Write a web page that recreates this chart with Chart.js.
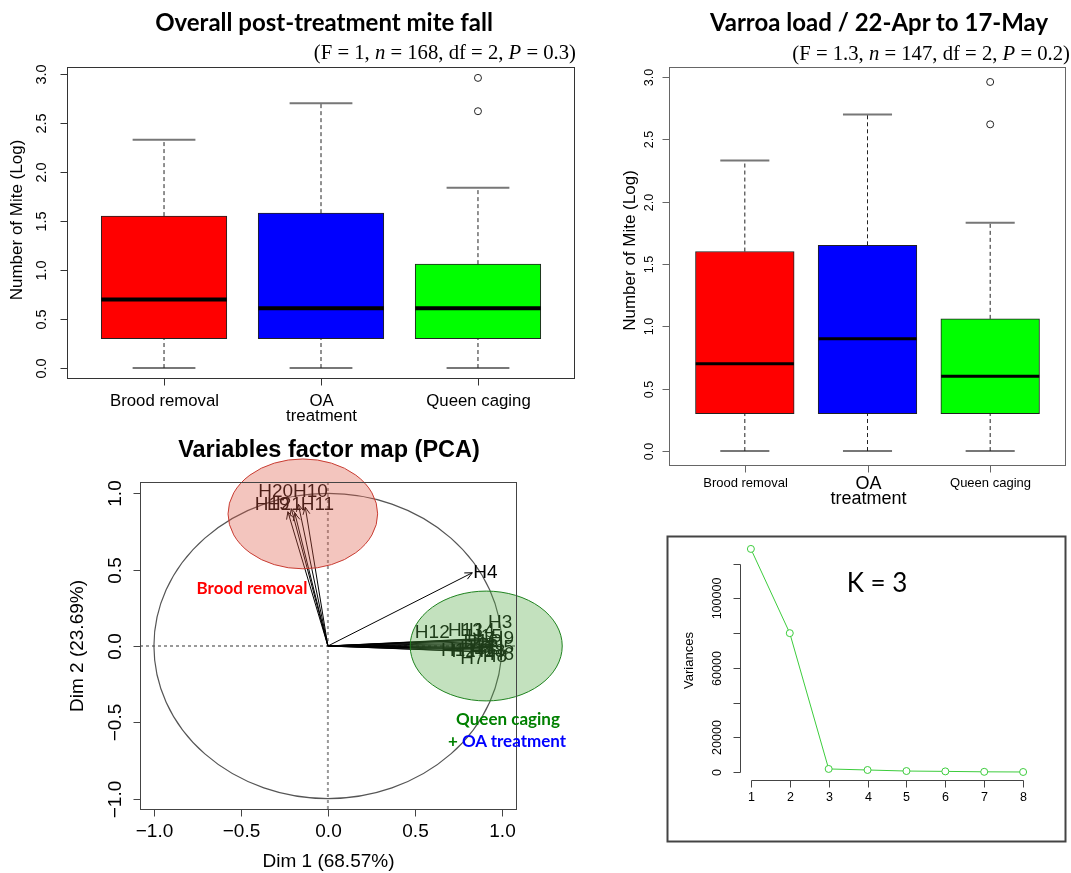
<!DOCTYPE html>
<html>
<head>
<meta charset="utf-8">
<script src="https://cdn.jsdelivr.net/npm/chart.js@4/dist/chart.umd.min.js"></script>
<style>
  body { margin: 0; background: #fff; width: 1071px; height: 873px; position: relative; overflow: hidden; }
  canvas { position: absolute; left: 0; top: 0; }
  .t { position: absolute; white-space: nowrap; transform: translate(-50%, -50%); line-height: 1; }
  .r { transform: translate(-100%, -50%); }
  .title { font-family: Lato, sans-serif; font-weight: 700; font-size: 24px; color: #000; }
  .sub { font-family: "Liberation Serif", serif; font-size: 20.7px; color: #000; }
  .note { font-family: Lato, sans-serif; font-weight: 700; font-size: 17px; }
</style>
</head>
<body>
<canvas id="fall" width="1071" height="873"></canvas>
<canvas id="load" width="1071" height="873"></canvas>
<canvas id="pca" width="1071" height="873"></canvas>
<canvas id="scree" width="1071" height="873"></canvas>

<div class="t title" style="left:324px;top:22px">Overall post-treatment mite fall</div>
<div class="t r sub" style="left:576px;top:52px">(F = 1, <i>n</i> = 168, df = 2, <i>P</i> = 0.3)</div>
<div class="t title" style="left:879px;top:22px">Varroa load / 22-Apr to 17-May</div>
<div class="t r sub" style="left:1070px;top:53px">(F = 1.3, <i>n</i> = 147, df = 2, <i>P</i> = 0.2)</div>
<div class="t" style="left:329px;top:450px;font-family:'Liberation Sans',Arial,sans-serif;font-weight:700;font-size:23.5px">Variables factor map (PCA)</div>
<div class="t note" style="left:252px;top:587px;color:#ff0000">Brood removal</div>
<div class="t note" style="left:508px;top:718px;color:#008000">Queen caging</div>
<div class="t note" style="left:507px;top:740px;color:#0000ff"><span style="color:#008000">+ </span>OA treatment</div>
<div class="t" style="left:877px;top:582px;font-family:Lato,sans-serif;font-size:26px">K = 3</div>

<script>
// groups shown in both boxplots
const groups = ["Brood removal", ["OA", "treatment"], "Queen caging"];
const boxColors = ["#ff0000", "#0000ff", "#00ff00"];

// overall post-treatment mite fall (log)
const fallMin = [0, 0, 0];
const fallQ1 = [0.3, 0.3, 0.3];
const fallMed = [0.7, 0.61, 0.61];
const fallQ3 = [1.55, 1.58, 1.06];
const fallMax = [2.33, 2.7, 1.84];
const fallOutGroup = [3, 3];
const fallOut = [2.62, 2.96];

// varroa load 22-Apr to 17-May (log)
const loadMin = [0, 0, 0];
const loadQ1 = [0.3, 0.3, 0.3];
const loadMed = [0.7, 0.9, 0.6];
const loadQ3 = [1.6, 1.65, 1.06];
const loadMax = [2.33, 2.7, 1.83];
const loadOutGroup = [3, 3];
const loadOut = [2.62, 2.96];

const boxTicks = [0, 0.5, 1, 1.5, 2, 2.5, 3];

// PCA variables: arrow ends and where the labels sit
const pcaNames = ["H20", "H10", "H11", "H19", "H21", "H4",
  "H12", "H13", "H14", "H3", "H15", "H9", "H16", "H5", "H17", "H1", "H18", "H6", "H7", "H8", "H2"];
const pcaDim1 = [-0.21, -0.17, -0.13, -0.23, -0.19, 0.83,
  0.88, 0.9, 0.92, 0.95, 0.93, 0.97, 0.94, 0.96, 0.93, 0.89, 0.95, 0.97, 0.91, 0.95, 0.9];
const pcaDim2 = [0.9, 0.93, 0.91, 0.88, 0.87, 0.48,
  0.04, 0.05, 0.04, 0.05, 0.03, 0.02, 0.01, 0.0, -0.01, -0.02, -0.02, -0.03, -0.04, -0.04, -0.01];
const pcaLabX = [-0.3, -0.1, -0.06, -0.32, -0.25, 0.905,
  0.6, 0.79, 0.86, 0.99, 0.9, 1.0, 0.88, 1.0, 0.86, 0.72, 0.92, 1.0, 0.83, 0.96, 0.78];
const pcaLabY = [1.01, 1.01, 0.925, 0.925, 0.925, 0.48,
  0.09, 0.1, 0.1, 0.15, 0.06, 0.05, 0.03, -0.01, -0.02, -0.03, -0.04, -0.06, -0.085, -0.07, -0.04];
const pcaTicks = [-1, -0.5, 0, 0.5, 1];
// highlighted groups: centre and radii in dim units
const groupEllipses = [
  { cx: -0.144, cy: 0.866, rx: 0.43, ry: 0.36, fill: "rgba(220,90,70,0.35)", line: "#c83c32" },
  { cx: 0.91, cy: 0.0, rx: 0.437, ry: 0.36, fill: "rgba(84,169,69,0.35)", line: "#1e821e" },
];

// scree plot
const screeK = [1, 2, 3, 4, 5, 6, 7, 8];
const screeVar = [128500, 80000, 1800, 1200, 600, 400, 150, 50];
const screeTicks = [0, 20000, 40000, 60000, 80000, 100000, 120000];
const screeTickLabels = ["0", "20000", null, "60000", null, "100000", null];

const W = 1071, H = 873;
const SANS = "'Liberation Sans', Arial, sans-serif";

// R style axes: frame, outward ticks, labels parallel to the axis
const rAxes = {
  id: "rAxes",
  afterDraw(chart, args, o) {
    const ctx = chart.ctx, a = chart.chartArea;
    const xs = chart.scales.x, ys = chart.scales.y;
    ctx.save();
    ctx.strokeStyle = o.color;
    ctx.lineWidth = 1;
    if (o.frame) {
      ctx.strokeRect(a.left + 0.5, a.top + 0.5, a.right - a.left - 1, a.bottom - a.top - 1);
    }
    const yp = o.y.ticks.map(v => Math.round(ys.getPixelForValue(v)) + 0.5);
    const xp = o.x.ticks.map(v => Math.round(xs.getPixelForValue(v)) + 0.5);
    const lx = a.left + 0.5, by = a.bottom - 0.5;
    ctx.beginPath();
    ctx.moveTo(lx, Math.min(...yp));
    ctx.lineTo(lx, Math.max(...yp));
    yp.forEach(p => { ctx.moveTo(lx, p); ctx.lineTo(lx - 7, p); });
    ctx.moveTo(Math.min(...xp), by);
    ctx.lineTo(Math.max(...xp), by);
    xp.forEach(p => { ctx.moveTo(p, by); ctx.lineTo(p, by + 7); });
    ctx.stroke();

    ctx.fillStyle = "#000";
    ctx.textAlign = "center";
    ctx.textBaseline = "middle";
    ctx.font = o.y.font;
    o.y.labels.forEach((t, i) => {
      if (t === null) return;
      ctx.save();
      ctx.translate(a.left - o.y.offset, yp[i]);
      ctx.rotate(-Math.PI / 2);
      ctx.fillText(t, 0, 0);
      ctx.restore();
    });
    o.x.labels.forEach((t, i) => {
      const lines = Array.isArray(t) ? t : [t];
      ctx.font = (o.x.fonts && o.x.fonts[i]) || o.x.font;
      lines.forEach((s, j) => ctx.fillText(s, xp[i], a.bottom + o.x.offset + j * o.x.lineGap + ((o.x.shift && o.x.shift[i]) || 0)));
    });
    if (o.yTitle) {
      ctx.font = o.yTitle.font;
      ctx.save();
      ctx.translate(a.left - o.yTitle.offset, (a.top + a.bottom) / 2 + (o.yTitle.shift || 0));
      ctx.rotate(-Math.PI / 2);
      ctx.fillText(o.yTitle.text, 0, 0);
      ctx.restore();
    }
    if (o.xTitle) {
      ctx.font = o.xTitle.font;
      ctx.fillText(o.xTitle.text, (a.left + a.right) / 2, a.bottom + o.xTitle.offset);
    }
    if (o.outer) {
      ctx.strokeStyle = o.outer.color;
      ctx.lineWidth = o.outer.width;
      const r = o.outer.rect;
      ctx.strokeRect(r[0], r[1], r[2] - r[0], r[3] - r[1]);
    }
    ctx.restore();
  }
};

function segs(pairs) {
  // line segments separated by gaps
  const out = [];
  pairs.forEach(p => {
    out.push({ x: p[0], y: p[1] }, { x: p[2], y: p[3] }, { x: p[2], y: null });
  });
  return out;
}

function boxChart(id, area, yMin, yMax, st, medWidth, axes) {
  const xMin = 0.382, xMax = 3.618;
  const unit = (area.right - area.left) / (xMax - xMin);
  const pos = st.med.map((m, i) => i + 1);
  const line = (data, color, width, dash) => ({
    type: "line", data, borderColor: color, borderWidth: width, borderDash: dash || [],
    pointRadius: 0, fill: false, spanGaps: false, tension: 0, order: 1,
  });
  const datasets = [
    {
      type: "bar",
      data: pos.map((x, i) => ({ x, y: [st.q1[i], st.q3[i]] })),
      backgroundColor: boxColors, borderColor: "#222", borderWidth: 1, borderSkipped: false,
      barThickness: 0.8 * unit, order: 3,
    },
    line(segs(pos.flatMap((x, i) => [[x, st.q3[i], x, st.max[i]], [x, st.min[i], x, st.q1[i]]])), "#222", 1, [4, 3]),
    line(segs(pos.flatMap((x, i) => [[x - 0.2, st.max[i], x + 0.2, st.max[i]], [x - 0.2, st.min[i], x + 0.2, st.min[i]]])), "#777", 2),
    line(segs(pos.map((x, i) => [x - 0.4, st.med[i], x + 0.4, st.med[i]])), "#000", medWidth),
    {
      type: "scatter",
      data: st.outX.map((x, i) => ({ x, y: st.outY[i] })),
      pointRadius: 3.5, pointBorderWidth: 1, pointBorderColor: "#222", pointBackgroundColor: "rgba(0,0,0,0)", order: 0,
    },
  ];
  return new Chart(document.getElementById(id), {
    type: "bar",
    data: { datasets },
    options: {
      responsive: false, animation: false,
      layout: { padding: { left: area.left, top: area.top, right: W - area.right, bottom: H - area.bottom } },
      plugins: { legend: { display: false }, tooltip: { enabled: false }, rAxes: axes },
      scales: {
        x: { type: "linear", min: xMin, max: xMax, offset: false, display: false },
        y: { type: "linear", min: yMin, max: yMax, display: false },
      },
    },
    plugins: [rAxes],
  });
}

boxChart("fall", { left: 67, top: 67, right: 575, bottom: 379 }, -0.112, 3.071,
  { min: fallMin, q1: fallQ1, med: fallMed, q3: fallQ3, max: fallMax, outX: fallOutGroup, outY: fallOut }, 4,
  {
    frame: true, color: "#333",
    y: { ticks: boxTicks, labels: boxTicks.map(v => v.toFixed(1)), offset: 25, font: "14.5px " + SANS },
    x: { ticks: [1, 2, 3], labels: groups, offset: 22, lineGap: 15, font: "16.8px " + SANS },
    yTitle: { text: "Number of Mite (Log)", offset: 50, font: "17px " + SANS, shift: -3 },
  });

boxChart("load", { left: 669, top: 67, right: 1068, bottom: 466 }, -0.12, 3.08,
  { min: loadMin, q1: loadQ1, med: loadMed, q3: loadQ3, max: loadMax, outX: loadOutGroup, outY: loadOut }, 3,
  {
    frame: true, color: "#666",
    y: { ticks: boxTicks, labels: boxTicks.map(v => v.toFixed(1)), offset: 19, font: "12.5px " + SANS },
    x: { ticks: [1, 2, 3], labels: groups, offset: 17, lineGap: 15, font: "13px " + SANS,
         fonts: [null, "18px " + SANS, null], shift: [0, 1, 0] },
    yTitle: { text: "Number of Mite (Log)", offset: 39, font: "17px " + SANS, shift: -16 },
  });

// PCA drawing helpers that go through the chart's scales
const pcaDecor = {
  id: "pcaDecor",
  beforeDatasetsDraw(chart) {
    const ctx = chart.ctx, a = chart.chartArea;
    const xs = chart.scales.x, ys = chart.scales.y;
    const x0 = xs.getPixelForValue(0), y0 = ys.getPixelForValue(0);
    ctx.save();
    ctx.strokeStyle = "#999";
    ctx.lineWidth = 2;
    ctx.setLineDash([3, 3]);
    ctx.beginPath();
    ctx.moveTo(a.left, y0); ctx.lineTo(a.right, y0);
    ctx.moveTo(x0, a.top); ctx.lineTo(x0, a.bottom);
    ctx.stroke();
    ctx.setLineDash([]);
    ctx.strokeStyle = "#555";
    ctx.lineWidth = 1.2;
    ctx.beginPath();
    ctx.ellipse(x0, y0, xs.getPixelForValue(1) - x0, y0 - ys.getPixelForValue(1), 0, 0, Math.PI * 2);
    ctx.stroke();
    ctx.restore();
  },
  afterDatasetsDraw(chart) {
    const ctx = chart.ctx;
    const xs = chart.scales.x, ys = chart.scales.y;
    const x0 = xs.getPixelForValue(0), y0 = ys.getPixelForValue(0);
    ctx.save();
    ctx.strokeStyle = "#000";
    ctx.lineWidth = 1;
    ctx.beginPath();
    pcaDim1.forEach((d, i) => {
      const px = xs.getPixelForValue(d), py = ys.getPixelForValue(pcaDim2[i]);
      const ang = Math.atan2(py - y0, px - x0);
      [-0.45, 0.45].forEach(s => {
        ctx.moveTo(px, py);
        ctx.lineTo(px - 8 * Math.cos(ang + s), py - 8 * Math.sin(ang + s));
      });
    });
    ctx.stroke();
    ctx.fillStyle = "#000";
    ctx.font = "19px " + SANS;
    ctx.textAlign = "center";
    ctx.textBaseline = "middle";
    pcaNames.forEach((n, i) => ctx.fillText(n, xs.getPixelForValue(pcaLabX[i]), ys.getPixelForValue(pcaLabY[i])));
    groupEllipses.forEach(e => {
      const cx = xs.getPixelForValue(e.cx), cy = ys.getPixelForValue(e.cy);
      const rx = xs.getPixelForValue(e.cx + e.rx) - cx, ry = cy - ys.getPixelForValue(e.cy + e.ry);
      ctx.beginPath();
      ctx.ellipse(cx, cy, rx, ry, 0, 0, Math.PI * 2);
      ctx.fillStyle = e.fill;
      ctx.fill();
      ctx.strokeStyle = e.line;
      ctx.lineWidth = 1;
      ctx.stroke();
    });
    ctx.restore();
  }
};

const pcaArea = { left: 140, top: 482, right: 517, bottom: 810 };
new Chart(document.getElementById("pca"), {
  type: "line",
  data: {
    datasets: [{
      data: segs(pcaDim1.map((d, i) => [0, 0, d, pcaDim2[i]])),
      borderColor: "#000", borderWidth: 1, pointRadius: 0, fill: false, spanGaps: false, tension: 0,
    }],
  },
  options: {
    responsive: false, animation: false,
    layout: { padding: { left: pcaArea.left, top: pcaArea.top, right: W - pcaArea.right, bottom: H - pcaArea.bottom } },
    plugins: {
      legend: { display: false }, tooltip: { enabled: false },
      rAxes: {
        frame: true, color: "#444",
        y: { ticks: pcaTicks, labels: pcaTicks.map(v => (v < 0 ? "\u2212" : "") + Math.abs(v).toFixed(1)), offset: 24, font: "19px " + SANS },
        x: { ticks: pcaTicks, labels: pcaTicks.map(v => (v < 0 ? "\u2212" : "") + Math.abs(v).toFixed(1)), offset: 22, lineGap: 0, font: "19px " + SANS },
        yTitle: { text: "Dim 2 (23.69%)", offset: 62, font: "19px " + SANS },
        xTitle: { text: "Dim 1 (68.57%)", offset: 52, font: "19px " + SANS },
      },
    },
    scales: {
      x: { type: "linear", min: -1.08, max: 1.087, display: false },
      y: { type: "linear", min: -1.075, max: 1.075, display: false },
    },
  },
  plugins: [pcaDecor, rAxes],
});

const screeArea = { left: 740, top: 540, right: 1034, bottom: 781 };
new Chart(document.getElementById("scree"), {
  type: "line",
  data: {
    datasets: [{
      data: screeK.map((k, i) => ({ x: k, y: screeVar[i] })),
      borderColor: "#3ccc3c", borderWidth: 1, tension: 0, fill: false,
      pointRadius: 3.5, pointBorderWidth: 1, pointBorderColor: "#3ccc3c", pointBackgroundColor: "#fff",
    }],
  },
  options: {
    responsive: false, animation: false,
    layout: { padding: { left: screeArea.left, top: screeArea.top, right: W - screeArea.right, bottom: H - screeArea.bottom } },
    plugins: {
      legend: { display: false }, tooltip: { enabled: false },
      rAxes: {
        frame: false, color: "#444",
        y: { ticks: screeTicks, labels: screeTickLabels, offset: 22, font: "12.5px " + SANS },
        x: { ticks: screeK, labels: screeK.map(String), offset: 17, lineGap: 0, font: "12.5px " + SANS },
        yTitle: { text: "Variances", offset: 51, font: "13px " + SANS, shift: 0 },
        outer: { rect: [667.5, 536.5, 1065.5, 841.5], color: "#444", width: 2 },
      },
    },
    scales: {
      x: { type: "linear", min: 0.72, max: 8.28, display: false },
      y: { type: "linear", min: -5140, max: 133640, display: false },
    },
  },
  plugins: [rAxes],
});
</script>
</body>
</html>
